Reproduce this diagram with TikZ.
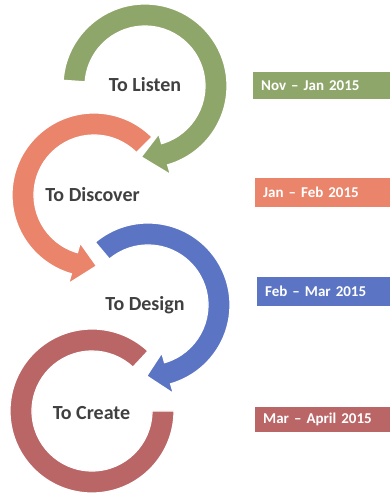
\documentclass[tikz,border=0pt]{standalone}
\usepackage{fontspec}
\setmainfont{Carlito}
\usepackage{tikz}
\usetikzlibrary{calc, positioning}
\definecolor{mygreen}{HTML}{8FA66B}
\definecolor{myorange}{HTML}{EA846B}
\definecolor{myblue}{HTML}{5B75C4}
\definecolor{myred}{HTML}{BA6566}
\definecolor{mygray}{HTML}{404040}
\tikzset{
  steptext/.style={font=\bfseries\fontsize{20}{24}\selectfont, text=mygray},
  datebox/.style={anchor=west, text width=121pt, inner xsep=8pt, inner ysep=0pt,
    font=\bfseries\fontsize{15}{18}\selectfont, text=white, align=left},
  band/.style={draw=white, line width=1.2pt}
}

\begin{document}
\begin{tikzpicture}[x=1pt, y=1pt]
	\useasboundingbox (0,0) rectangle (390,498);
	\coordinate (c1) at (145,412);
	\coordinate (c2) at (94,303);
	\coordinate (c3) at (148,193);
	\coordinate (c4) at (92,87);
	% to create
	\fill[band, fill=myred] ($(c4)+(47:82)$) arc[start angle=47, end angle=360, radius=82] -- ($(c4)+(0:60)$) arc[start angle=360, end angle=47, radius=60] -- cycle;
	% to design
	\fill[band, fill=myblue] ($(c3)+(130:82)$) arc[start angle=130, end angle=-74, radius=82] -- ($(c3)+(-74:92)$) -- ($(c3)+(-91:71)$) -- ($(c3)+(-74:50)$) -- ($(c3)+(-74:60)$) arc[start angle=-74, end angle=130, radius=60] -- cycle;
	% to discover
	\fill[band, fill=myorange] ($(c2)+(45:82)$) arc[start angle=45, end angle=254, radius=82] -- ($(c2)+(254:92)$) -- ($(c2)+(272:71)$) -- ($(c2)+(254:50)$) -- ($(c2)+(254:60)$) arc[start angle=254, end angle=45, radius=60] -- cycle;
	% to listen
	\fill[band, fill=mygreen] ($(c1)+(176:82)$) arc[start angle=176, end angle=-74, radius=82] -- ($(c1)+(-74:92)$) -- ($(c1)+(-93:71)$) -- ($(c1)+(-74:50)$) -- ($(c1)+(-74:60)$) arc[start angle=-74, end angle=176, radius=60] -- cycle;
	% labels
	\node[steptext] (listen) at (145,413) {To Listen};
	\node[steptext] (discover) at (92.5,303) {To Discover};
	\node[steptext] (design) at (145,193) {To Design};
	\node[steptext] (create) at (91.5,85) {To Create};
	% dates
	\node[datebox, fill=mygreen, minimum height=27pt] (nov) at (253,412.5) {Nov – Jan 2015};
	\node[datebox, fill=myorange, minimum height=29pt] (jan) at (255,305.5) {Jan – Feb 2015};
	\node[datebox, fill=myblue, minimum height=29pt] (feb) at (257,206.5) {Feb – Mar 2015};
	\node[datebox, fill=myred, minimum height=25pt] (mar) at (255,78.5) {Mar – April 2015};
\end{tikzpicture}
\end{document}
